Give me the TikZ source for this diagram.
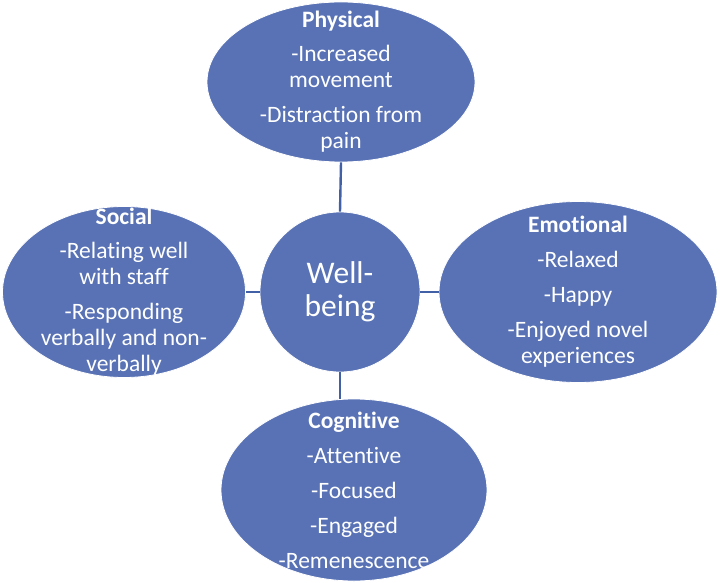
\documentclass[tikz,border=0pt]{standalone}
\usepackage{fontspec}
\setmainfont{Carlito}[Ligatures=NoCommon]
\usetikzlibrary{shapes.geometric}
\definecolor{areablue}{HTML}{5872B5}
\definecolor{linkblue}{HTML}{4260A6}

\begin{document}
\begin{tikzpicture}[x=1pt,y=1pt,
  area/.style={ellipse,fill=areablue,draw=white,line width=0.8pt,text=white,align=center,
    inner xsep=0pt,inner ysep=-40pt,font=\fontsize{23.5}{26}\selectfont},
  link/.style={draw=linkblue,line width=2.4pt}]
  \useasboundingbox (0,0) rectangle (720,-583);
  % centro
  \node[circle,fill=areablue,draw=white,line width=0.8pt,minimum size=160,text=white,align=center,
    font=\fontsize{31.5}{33}\selectfont] (well) at (340,-292) {Well-\\being};
  % las cuatro areas
  \node[area,minimum width=268,minimum height=160] (phys) at (341,-82)
    {\textbf{Physical}\\[8pt]-Increased\\movement\\[9pt]-Distraction from\\pain};
  \node[area,minimum width=243,minimum height=171] (soc) at (124,-292)
    {\textbf{Social}\\[8pt]-Relating well\\with staff\\[9pt]-Responding\\verbally and non-\\verbally};
  \node[area,minimum width=278,minimum height=181] (emo) at (578,-292)
    {\textbf{Emotional}\\[9pt]-Relaxed\\[9pt]-Happy\\[9pt]-Enjoyed novel\\experiences};
  \node[area,minimum width=266,minimum height=182] (cog) at (354,-490)
    {\textbf{Cognitive}\\[9pt]-Attentive\\[9pt]-Focused\\[9pt]-Engaged\\[9pt]-Remenescence};
  % uniones
  \draw[link] (phys.south) -- (well.north);
  \draw[link] (soc.east) -- (well.west);
  \draw[link] (well.east) -- (emo.west);
  \draw[link] (well.south) -- (well.south |- cog.north);
\end{tikzpicture}
\end{document}
